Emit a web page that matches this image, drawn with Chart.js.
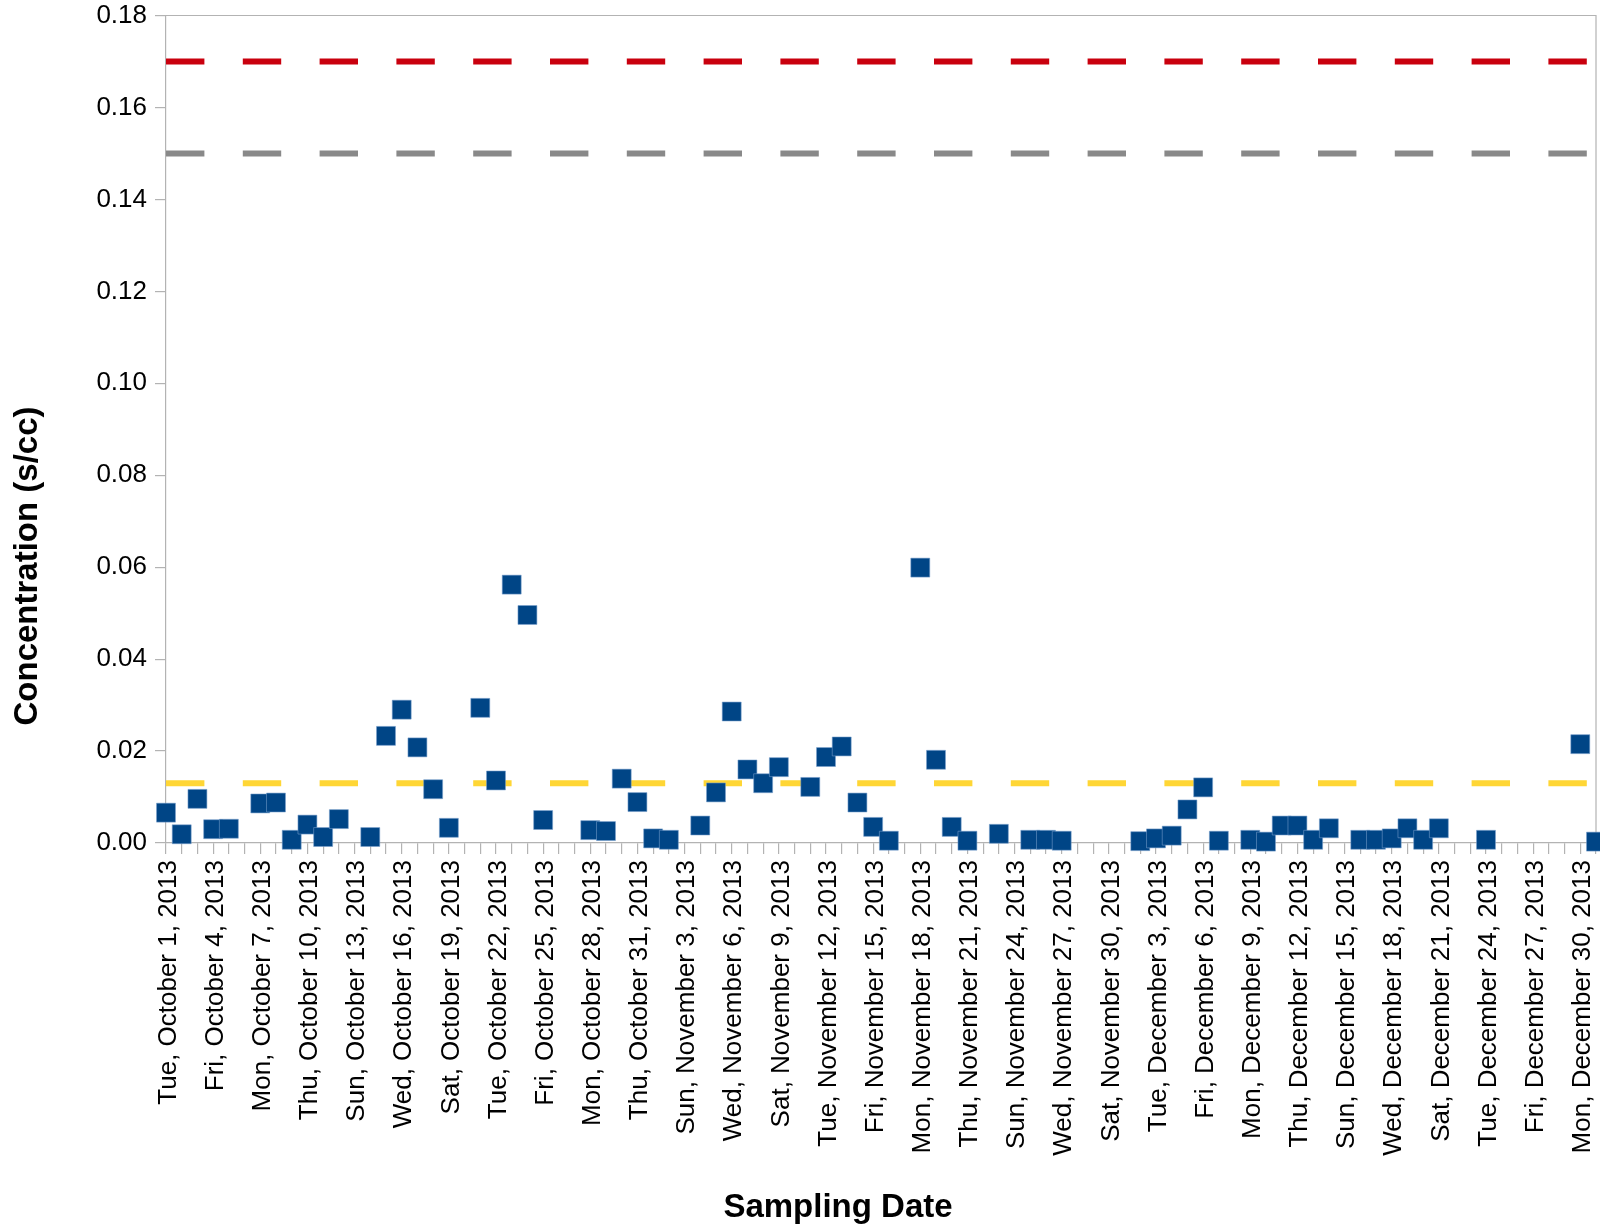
<!DOCTYPE html>
<html>
<head>
<meta charset="utf-8">
<script src="https://cdn.jsdelivr.net/npm/chart.js@4.4.1/dist/chart.umd.min.js"></script>
<style>
  html, body { margin: 0; padding: 0; background: #ffffff; }
  #wrap { width: 1600px; height: 1228px; position: relative; }
</style>
</head>
<body>
<div id="wrap"><canvas id="c" width="1600" height="1228"></canvas></div>
<script>
// ---- data ----
const sampleDates = [
  "2013-10-01","2013-10-02","2013-10-03","2013-10-04","2013-10-05","2013-10-07","2013-10-08",
  "2013-10-09","2013-10-10","2013-10-11","2013-10-12","2013-10-14","2013-10-15","2013-10-16",
  "2013-10-17","2013-10-18","2013-10-19","2013-10-21","2013-10-22","2013-10-23","2013-10-24",
  "2013-10-25","2013-10-28","2013-10-29","2013-10-30","2013-10-31","2013-11-01","2013-11-02",
  "2013-11-04","2013-11-05","2013-11-06","2013-11-07","2013-11-08","2013-11-09","2013-11-11",
  "2013-11-12","2013-11-13","2013-11-14","2013-11-15","2013-11-16","2013-11-18","2013-11-19",
  "2013-11-20","2013-11-21","2013-11-23","2013-11-25","2013-11-26","2013-11-27","2013-12-02",
  "2013-12-03","2013-12-04","2013-12-05","2013-12-06","2013-12-07","2013-12-09","2013-12-10",
  "2013-12-11","2013-12-12","2013-12-13","2013-12-14","2013-12-16","2013-12-17","2013-12-18",
  "2013-12-19","2013-12-20","2013-12-21","2013-12-24","2013-12-30","2013-12-31"
];
const concentration = [
  0.0066,0.0019,0.0096,0.0030,0.0031,0.0086,0.0088,
  0.0007,0.0040,0.0013,0.0052,0.0013,0.0233,0.0290,
  0.0208,0.0117,0.0033,0.0294,0.0136,0.0562,0.0496,
  0.0050,0.0028,0.0026,0.0140,0.0089,0.0010,0.0007,
  0.0038,0.0110,0.0286,0.0160,0.0130,0.0165,0.0122,
  0.0187,0.0210,0.0088,0.0035,0.0005,0.0599,0.0181,
  0.0035,0.0005,0.0020,0.0007,0.0007,0.0005,0.0004,
  0.0010,0.0016,0.0073,0.0121,0.0005,0.0007,0.0003,
  0.0038,0.0038,0.0007,0.0032,0.0007,0.0007,0.0010,
  0.0032,0.0007,0.0032,0.0007,0.0215,0.0003
];
const thresholdRed = 0.17;
const thresholdGray = 0.15;
const thresholdYellow = 0.013;
const axisStart = "2013-10-01";
const axisEnd = "2013-12-31";
const xTickLabels = [
  "Tue, October 1, 2013","Fri, October 4, 2013","Mon, October 7, 2013","Thu, October 10, 2013",
  "Sun, October 13, 2013","Wed, October 16, 2013","Sat, October 19, 2013","Tue, October 22, 2013",
  "Fri, October 25, 2013","Mon, October 28, 2013","Thu, October 31, 2013","Sun, November 3, 2013",
  "Wed, November 6, 2013","Sat, November 9, 2013","Tue, November 12, 2013","Fri, November 15, 2013",
  "Mon, November 18, 2013","Thu, November 21, 2013","Sun, November 24, 2013","Wed, November 27, 2013",
  "Sat, November 30, 2013","Tue, December 3, 2013","Fri, December 6, 2013","Mon, December 9, 2013",
  "Thu, December 12, 2013","Sun, December 15, 2013","Wed, December 18, 2013","Sat, December 21, 2013",
  "Tue, December 24, 2013","Fri, December 27, 2013","Mon, December 30, 2013"
];
const yTitle = "Concentration (s/cc)";
const xTitle = "Sampling Date";

// ---- helpers ----
function dayIndex(s) {
  const [y, m, d] = s.split("-").map(Number);
  const [y0, m0, d0] = axisStart.split("-").map(Number);
  return Math.round((Date.UTC(y, m - 1, d) - Date.UTC(y0, m0 - 1, d0)) / 86400000);
}
const xMax = dayIndex(axisEnd);
const points = sampleDates.map((s, i) => ({ x: dayIndex(s), y: concentration[i] }));
const hLine = v => [{ x: 0, y: v }, { x: xMax, y: v }];

const FONT = "'Liberation Sans', Arial, sans-serif";
const DASH = [38.4, 38.4];

function zeroPad(scale) {
  scale.paddingTop = 0; scale.paddingBottom = 0;
  scale.paddingLeft = 0; scale.paddingRight = 0;
}

const framePlugin = {
  id: 'frame',
  beforeDatasetsDraw(chart) {
    const { ctx, chartArea: a } = chart;
    ctx.save();
    ctx.strokeStyle = '#b3b3b3';
    ctx.lineWidth = 1.2;
    ctx.beginPath();
    ctx.moveTo(a.left, a.top);
    ctx.lineTo(a.right, a.top);
    ctx.lineTo(a.right, a.bottom);
    ctx.stroke();
    ctx.restore();
  },
  afterDraw(chart) {
    const { ctx } = chart;
    ctx.save();
    ctx.fillStyle = '#000';
    ctx.font = "bold 33px " + FONT;
    ctx.textAlign = 'center';
    ctx.textBaseline = 'middle';
    ctx.translate(28, 566);
    ctx.rotate(-Math.PI / 2);
    ctx.fillText(yTitle, 0, 0);
    ctx.restore();
    ctx.save();
    ctx.fillStyle = '#000';
    ctx.font = "bold 33px " + FONT;
    ctx.textAlign = 'center';
    ctx.textBaseline = 'middle';
    ctx.fillText(xTitle, 838, 1208);
    ctx.restore();
  }
};

new Chart(document.getElementById('c'), {
  type: 'scatter',
  data: {
    datasets: [
      {
        label: 'Concentration',
        data: points,
        pointStyle: 'rect',
        pointRadius: 13.4,
        pointHoverRadius: 13.4,
        backgroundColor: '#004586',
        borderColor: 'rgba(120,160,205,0.7)',
        borderWidth: 0.8,
        clip: false,
        order: 0
      },
      {
        type: 'line', data: hLine(thresholdRed), borderColor: '#c9000e', borderWidth: 6,
        borderDash: DASH, pointRadius: 0, fill: false, order: 1, borderCapStyle: 'butt'
      },
      {
        type: 'line', data: hLine(thresholdGray), borderColor: '#898989', borderWidth: 6,
        borderDash: DASH, pointRadius: 0, fill: false, order: 2, borderCapStyle: 'butt'
      },
      {
        type: 'line', data: hLine(thresholdYellow), borderColor: '#ffd635', borderWidth: 6,
        borderDash: DASH, pointRadius: 0, fill: false, order: 3, borderCapStyle: 'butt'
      }
    ]
  },
  options: {
    responsive: false,
    animation: false,
    devicePixelRatio: 1,
    layout: { autoPadding: false, padding: { top: 15.5, right: 4, left: 0, bottom: 0 } },
    plugins: { legend: { display: false }, tooltip: { enabled: false } },
    events: [],
    scales: {
      x: {
        type: 'linear',
        min: 0,
        max: xMax,
        afterFit(scale) { scale.height = 1228 - 843; zeroPad(scale); },
        afterBuildTicks(scale) {
          const t = [];
          for (let i = 0; i <= xMax; i++) t.push({ value: i });
          scale.ticks = t;
        },
        ticks: {
          autoSkip: false,
          maxRotation: 90,
          minRotation: 90,
          padding: 6,
          labelOffset: 2.5,
          color: '#000',
          font: { family: FONT, size: 26 },
          callback(v) {
            return (v % 3 === 0) ? (xTickLabels[v / 3] || '') : '';
          }
        },
        grid: { drawOnChartArea: false, drawTicks: true, tickLength: 11, color: '#b3b3b3', lineWidth: 1.2 },
        border: { display: true, color: '#b3b3b3', width: 1.2 }
      },
      y: {
        type: 'linear',
        min: 0,
        max: 0.18,
        afterFit(scale) { scale.width = 166; zeroPad(scale); },
        ticks: {
          stepSize: 0.02,
          padding: 8,
          color: '#000',
          font: { family: FONT, size: 26 },
          callback(v) { return Number(v).toFixed(2); }
        },
        grid: { drawOnChartArea: false, drawTicks: true, tickLength: 11, color: '#b3b3b3', lineWidth: 1.2 },
        border: { display: true, color: '#b3b3b3', width: 1.2 }
      }
    }
  },
  plugins: [framePlugin]
});
</script>
</body>
</html>
